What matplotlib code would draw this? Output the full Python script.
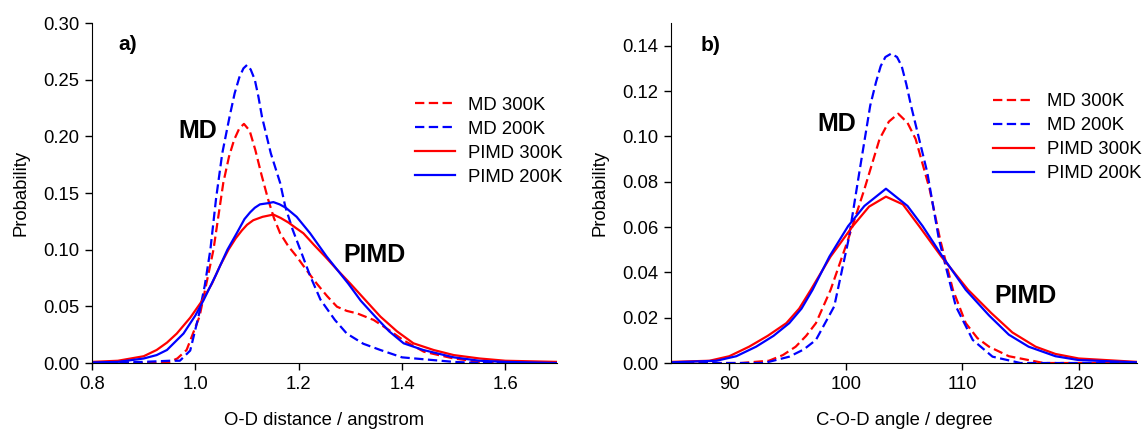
import matplotlib
matplotlib.use("Agg")
import matplotlib.pyplot as plt

plt.rcParams['font.family'] = ['Liberation Sans', 'DejaVu Sans']

# === Data ===
# panel a) O-D distance distributions
a_md300_x = [0.80, 0.93, 0.95, 0.965, 0.983, 1.008, 1.035, 1.054, 1.065, 1.075, 1.085, 1.094, 1.105,
             1.116, 1.128, 1.141, 1.152, 1.164, 1.18, 1.196, 1.215, 1.235, 1.255, 1.274, 1.293, 1.313,
             1.345, 1.375, 1.403, 1.442, 1.50, 1.55, 1.60, 1.70]
a_md300_y = [0.0, 0.0, 0.001, 0.004, 0.0115, 0.041, 0.10, 0.159, 0.182, 0.197, 0.207, 0.211, 0.205,
             0.188, 0.166, 0.144, 0.128, 0.1145, 0.103, 0.094, 0.082, 0.070, 0.059, 0.0497, 0.046, 0.0438,
             0.038, 0.029, 0.020, 0.010, 0.004, 0.001, 0.0, 0.0]

a_md200_x = [0.80, 0.90, 0.95, 0.97, 0.99, 1.006, 1.018, 1.029, 1.040, 1.052, 1.066, 1.076, 1.085,
             1.093, 1.10, 1.107, 1.115, 1.122, 1.129, 1.146, 1.164, 1.174, 1.188, 1.203, 1.222, 1.242,
             1.27, 1.293, 1.325, 1.358, 1.40, 1.45, 1.50, 1.55, 1.70]
a_md200_y = [0.0, 0.001, 0.002, 0.002, 0.011, 0.041, 0.068, 0.10, 0.145, 0.185, 0.217, 0.238, 0.252,
             0.260, 0.263, 0.259, 0.250, 0.235, 0.217, 0.185, 0.159, 0.138, 0.118, 0.10, 0.077, 0.056,
             0.038, 0.026, 0.017, 0.0115, 0.005, 0.003, 0.001, 0.0, 0.0]

a_pimd300_x = [0.80, 0.85, 0.90, 0.925, 0.945, 0.964, 0.99, 1.014, 1.032, 1.048, 1.064, 1.078, 1.09,
               1.10, 1.112, 1.13, 1.151, 1.165, 1.18, 1.195, 1.209, 1.23, 1.251, 1.275, 1.30, 1.33,
               1.358, 1.39, 1.422, 1.461, 1.50, 1.55, 1.60, 1.70]
a_pimd300_y = [0.001, 0.002, 0.006, 0.0115, 0.018, 0.026, 0.040, 0.0556, 0.070, 0.086, 0.10, 0.110, 0.117,
               0.122, 0.126, 0.129, 0.131, 0.128, 0.124, 0.119, 0.1145, 0.104, 0.094, 0.082, 0.070, 0.055,
               0.041, 0.028, 0.0174, 0.0115, 0.007, 0.004, 0.002, 0.001]

a_pimd200_x = [0.80, 0.85, 0.90, 0.925, 0.945, 0.977, 1.0, 1.016, 1.04, 1.062, 1.080, 1.095, 1.106,
               1.115, 1.125, 1.14, 1.151, 1.163, 1.175, 1.196, 1.222, 1.254, 1.275, 1.296, 1.32, 1.348,
               1.375, 1.403, 1.441, 1.50, 1.55, 1.60, 1.70]
a_pimd200_y = [0.0005, 0.001, 0.004, 0.007, 0.0115, 0.026, 0.042, 0.0556, 0.078, 0.10, 0.1145, 0.127, 0.133,
               0.137, 0.140, 0.141, 0.142, 0.140, 0.137, 0.129, 0.1145, 0.094, 0.082, 0.070, 0.055, 0.041,
               0.028, 0.0174, 0.0115, 0.005, 0.002, 0.001, 0.0]

# panel b) C-O-D angle distributions
b_md300_x = [85, 91, 93.4, 94.6, 95.7, 96.6, 97.44, 98.7, 100.2, 101.6, 102.9, 103.7, 104.5, 105.3,
             106.0, 107.2, 108.1, 109.2, 110.3, 111.3, 112.3, 114.0, 115.0, 117, 125]
b_md300_y = [0.0, 0.0, 0.001, 0.0035, 0.0072, 0.012, 0.0176, 0.0323, 0.0545, 0.0767, 0.0988, 0.1065, 0.110, 0.106,
             0.0988, 0.0767, 0.0545, 0.0323, 0.0176, 0.011, 0.0072, 0.003, 0.002, 0.0, 0.0]

b_md200_x = [85, 93, 95.15, 96.4, 97.44, 99.01, 100.24, 101.16, 102.1, 102.6, 103.0, 103.4, 103.9, 104.4,
             104.8, 105.2, 105.6, 107.0, 108.0, 109.45, 110.9, 112.6, 115, 125]
b_md200_y = [0.0, 0.0, 0.0028, 0.006, 0.0102, 0.025, 0.0545, 0.084, 0.1136, 0.124, 0.131, 0.135, 0.1365, 0.135,
             0.131, 0.123, 0.1136, 0.084, 0.0545, 0.025, 0.0102, 0.0028, 0.0, 0.0]

b_pimd300_x = [85, 88.3, 90.0, 91.7, 93.3, 94.9, 96.0, 97.0, 98.7, 100.6, 102.0, 103.45, 104.9, 106.3,
               108.2, 110.5, 112.5, 114.3, 116.3, 118.0, 120, 125]
b_pimd300_y = [0.0005, 0.001, 0.003, 0.0072, 0.012, 0.0176, 0.024, 0.0323, 0.047, 0.0604, 0.069, 0.0734, 0.070, 0.0604,
               0.047, 0.0323, 0.022, 0.0135, 0.0072, 0.004, 0.002, 0.0005]

b_pimd200_x = [85, 88.9, 90.6, 92.3, 93.8, 95.15, 96.2, 97.15, 98.6, 100.2, 101.6, 103.45, 105.3, 106.6,
               108.3, 110.3, 112.3, 114.0, 115.7, 118.0, 120, 125]
b_pimd200_y = [0.0003, 0.001, 0.003, 0.0072, 0.012, 0.0176, 0.024, 0.0323, 0.047, 0.0604, 0.0693, 0.0769, 0.0693, 0.0604,
               0.047, 0.0323, 0.021, 0.0125, 0.0072, 0.003, 0.0013, 0.0003]

labels = ['MD 300K', 'MD 200K', 'PIMD 300K', 'PIMD 200K']
colors = ['red', 'blue', 'red', 'blue']
styles = ['--', '--', '-', '-']

FS = 13.3

# === Plot ===
fig = plt.figure(figsize=(11.42, 4.29), dpi=100)
ax_a = fig.add_axes([0.0806, 0.1538, 0.4072, 0.7925])
ax_b = fig.add_axes([0.5876, 0.1538, 0.4080, 0.7925])

series_a = [(a_md300_x, a_md300_y), (a_md200_x, a_md200_y),
            (a_pimd300_x, a_pimd300_y), (a_pimd200_x, a_pimd200_y)]
series_b = [(b_md300_x, b_md300_y), (b_md200_x, b_md200_y),
            (b_pimd300_x, b_pimd300_y), (b_pimd200_x, b_pimd200_y)]

for ax, series in [(ax_a, series_a), (ax_b, series_b)]:
    for (x, y), lab, c, ls in zip(series, labels, colors, styles):
        line, = ax.plot(x, y, color=c, linestyle=ls, linewidth=1.6, label=lab,
                        solid_joinstyle='round')
        if ls == '--':
            line.set_dashes((4.2, 2.0))
    for side in ['top', 'right']:
        ax.spines[side].set_visible(False)
    ax.tick_params(direction='out', length=5, width=1, labelsize=FS, pad=4)
    ax.set_ylabel("Probability", fontsize=FS, labelpad=10)

# panel a)
ax_a.set_xlim(0.8, 1.7)
ax_a.set_ylim(0, 0.30)
ax_a.set_xticks([0.8, 1.0, 1.2, 1.4, 1.6])
ax_a.set_xticklabels(['0.8', '1.0', '1.2', '1.4', '1.6'])
ax_a.set_yticks([0.0, 0.05, 0.10, 0.15, 0.20, 0.25, 0.30])
ax_a.set_yticklabels(['0.00', '0.05', '0.10', '0.15', '0.20', '0.25', '0.30'])
ax_a.set_xlabel("O-D distance / angstrom", fontsize=FS, labelpad=14)
ax_a.text(0.85, 0.281, "a)", fontsize=15, fontweight='bold', va='center', ha='left')
ax_a.text(1.005, 0.205, "MD", fontsize=18, fontweight='bold', va='center', ha='center')
ax_a.text(1.347, 0.095, "PIMD", fontsize=18, fontweight='bold', va='center', ha='center')
ax_a.legend(loc='upper left', bbox_to_anchor=(0.678, 0.805), frameon=False, fontsize=FS,
            handlelength=2.2, handletextpad=0.7, labelspacing=0.38, borderaxespad=0)

# panel b)
ax_b.set_xlim(85, 125)
ax_b.set_ylim(0, 0.15)
ax_b.set_xticks([90, 100, 110, 120])
ax_b.set_yticks([0.0, 0.02, 0.04, 0.06, 0.08, 0.10, 0.12, 0.14])
ax_b.set_yticklabels(['0.00', '0.02', '0.04', '0.06', '0.08', '0.10', '0.12', '0.14'])
ax_b.set_xlabel("C-O-D angle / degree", fontsize=FS, labelpad=14)
ax_b.text(87.5, 0.140, "b)", fontsize=15, fontweight='bold', va='center', ha='left')
ax_b.text(99.2, 0.1055, "MD", fontsize=18, fontweight='bold', va='center', ha='center')
ax_b.text(115.4, 0.0297, "PIMD", fontsize=18, fontweight='bold', va='center', ha='center')
ax_b.legend(loc='upper left', bbox_to_anchor=(0.675, 0.815), frameon=False, fontsize=FS,
            handlelength=2.2, handletextpad=0.7, labelspacing=0.38, borderaxespad=0)

fig.savefig("out.png", dpi=100)
